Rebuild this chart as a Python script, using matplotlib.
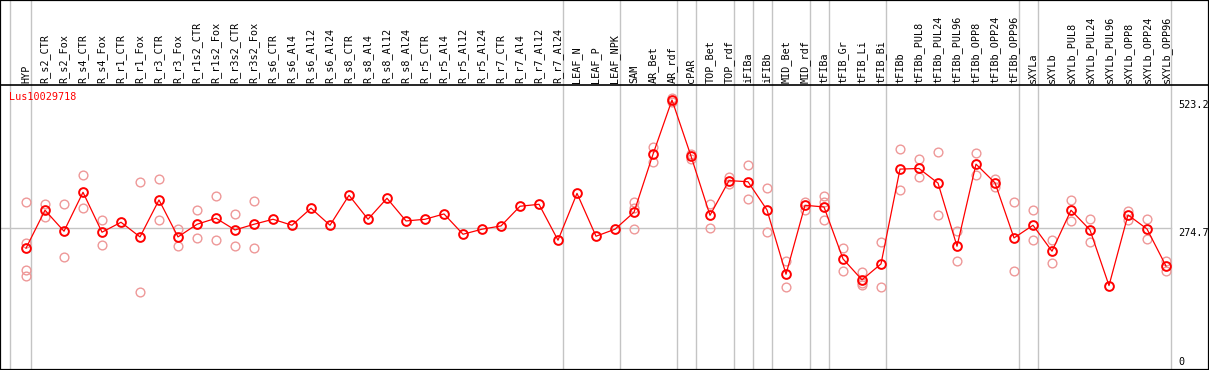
import matplotlib
matplotlib.use("Agg")
import matplotlib.pyplot as plt
from matplotlib.lines import Line2D
import matplotlib.transforms as mtransforms

title = "Lus10029718"
categories = ["HYP", "R_s2_CTR", "R_s2_Fox", "R_s4_CTR", "R_s4_Fox", "R_r1_CTR", "R_r1_Fox",
              "R_r3_CTR", "R_r3_Fox", "R_r1s2_CTR", "R_r1s2_Fox", "R_r3s2_CTR", "R_r3s2_Fox",
              "R_s6_CTR", "R_s6_Al4", "R_s6_Al12", "R_s6_Al24", "R_s8_CTR", "R_s8_Al4",
              "R_s8_Al12", "R_s8_Al24", "R_r5_CTR", "R_r5_Al4", "R_r5_Al12", "R_r5_Al24",
              "R_r7_CTR", "R_r7_Al4", "R_r7_Al12", "R_r7_Al24", "LEAF_N", "LEAF_P", "LEAF_NPK",
              "SAM", "AR_Bet", "AR_rdf", "cPAR", "TOP_Bet", "TOP_rdf", "iFIBa", "iFIBb",
              "MID_Bet", "MID_rdf", "tFIBa", "tFIB_Gr", "tFIB_Li", "tFIB_Bi", "tFIBb",
              "tFIBb_PUL8", "tFIBb_PUL24", "tFIBb_PUL96", "tFIBb_OPP8", "tFIBb_OPP24",
              "tFIBb_OPP96", "sXYLa", "sXYLb", "sXYLb_PUL8", "sXYLb_PUL24", "sXYLb_PUL96",
              "sXYLb_OPP8", "sXYLb_OPP24", "sXYLb_OPP96"]

means = [236, 309.6, 268.9, 344.4, 267, 286.3, 257.9, 329.5, 257.9, 282.4, 294.1, 271.4, 282.4,
         292.1, 280.5, 313.4, 280.5, 338.6, 292.1, 332.8, 288.8, 292.1, 302.4, 263.1, 272.8,
         279.2, 317.3, 321.1, 251.5, 342.3, 259.2, 272.8, 305.7, 418, 523.2, 414.5, 299.7,
         367, 364.8, 310.1, 185.6, 319.2, 315.9, 215.3, 174.7, 205.6, 389.3, 390.5, 362.1,
         239.8, 398.9, 362.7, 255.9, 280.5, 230.2, 309.6, 271.4, 163.6, 300.5, 273.3, 201.4]

replicates = [[325, 246, 194, 182], [322, 297], [322, 218.5], [378, 313], [290, 242], [],
              [364, 151], [370, 290], [274, 240], [310, 255], [337, 251.5], [302, 240],
              [327, 236], [], [], [], [], [], [], [], [], [], [], [], [], [], [], [], [],
              [], [], [], [326, 313, 273], [432, 404], [527, 520], [418.5, 408], [321, 275],
              [374, 360], [398, 331], [352, 267], [211, 160], [326, 310], [337, 326, 290],
              [237, 191], [189, 168, 164], [248, 160], [428, 349], [409, 374], [422, 300],
              [270, 211], [420, 378], [371, 355], [326, 191], [310, 252], [252, 207],
              [330, 289], [293, 249], [], [309, 291], [293, 254], [211, 192]]

group_ends = [0, 28, 31, 34, 35, 37, 38, 39, 41, 42, 45, 52, 53, 60]
axis_labels = ["523.2", "274.7", "0"]
axis_values = [523.2, 274.7, 0]
ref_value = 274.7

W, H = 1209, 370
fig = plt.figure(figsize=(W / 100, H / 100), dpi=100)
ax = fig.add_axes([0, 0, 1, 1])

# pixel geometry
x0_px, step_px = 26, 19
top_val_px = 100  # pixel row of the maximum value
ymax_val = max(means)
ytop = ymax_val * H / (H - top_val_px)
ax.set_xlim(-x0_px / step_px, (W - x0_px) / step_px)
ax.set_ylim(0, ytop)
ax.set_xticks([])
ax.set_yticks([])
for s in ax.spines.values():
    s.set_linewidth(1.6)
    s.set_color("black")

mono = "DejaVu Sans Mono"
fs = 7.3
grey = "#c4c4c4"

# group separators
sep_positions = [-0.82] + [g + 0.24 for g in group_ends]
for xp in sep_positions:
    ax.axvline(xp, color=grey, lw=1.0, zorder=1)

# horizontal line under labels
sep_y = 1 - 85 / H
fig.add_artist(Line2D([0, 1], [sep_y, sep_y], color="black", lw=1.2, transform=fig.transFigure))

# reference line
ax.plot([ax.get_xlim()[0], group_ends[-1] + 0.24], [ref_value, ref_value], color=grey, lw=1.0, zorder=1)

# labels
trans = mtransforms.blended_transform_factory(ax.transData, fig.transFigure)
for i, c in enumerate(categories):
    ax.text(i, 1 - 83 / H, c, rotation=90, ha="center", va="bottom", fontsize=fs,
            family=mono, transform=trans)

# replicates
xs, ys = [], []
for i, reps in enumerate(replicates):
    for r in reps:
        xs.append(i)
        ys.append(r)
ax.plot(xs, ys, linestyle="none", marker="o", markersize=6.3, markerfacecolor="none",
        markeredgecolor="#ee9898", markeredgewidth=1.0, zorder=2)

# mean line
idx = list(range(len(categories)))
ax.plot(idx, means, color="red", lw=0.9, zorder=3)
ax.plot(idx, means, linestyle="none", marker="o", markersize=6.3, markerfacecolor="none",
        markeredgecolor="red", markeredgewidth=1.4, zorder=4)

# title
fig.text(9 / W, 1 - 96.7 / H, title, color="red", fontsize=fs, family=mono, ha="left", va="center")

# axis value labels
for lab, v in zip(axis_labels, axis_values):
    ypx = H - v * (H - top_val_px) / ymax_val
    ypx = min(ypx + 5, H - 8)
    fig.text(1178 / W, 1 - ypx / H, lab, fontsize=fs, family=mono, ha="left", va="center")

fig.savefig("out.png", dpi=100)
